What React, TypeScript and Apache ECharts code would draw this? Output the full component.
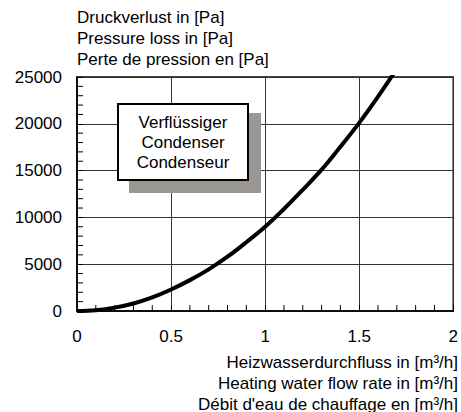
import React, { useEffect, useRef } from "react";
import * as echarts from "echarts";

const flowRates = [0, 0.1, 0.2, 0.3, 0.4, 0.5, 0.6, 0.7, 0.8, 0.9, 1.0, 1.1, 1.2, 1.3, 1.4, 1.5, 1.6, 1.7];
const pressureLoss = [0, 90, 360, 800, 1450, 2300, 3300, 4450, 5800, 7350, 9000, 10900, 12950, 15100, 17550, 20100, 22900, 25900];
const yTicks = [0, 5000, 10000, 15000, 20000, 25000];
const xTicks = [0, 0.5, 1, 1.5, 2];
const xMinorTicks = [0.1, 0.2, 0.3, 0.4, 0.6, 0.7, 0.8, 0.9, 1.1, 1.2, 1.3, 1.4, 1.6, 1.7, 1.8, 1.9];
const yMinorTicks = [1000, 2000, 3000, 4000, 6000, 7000, 8000, 9000, 11000, 12000, 13000, 14000, 16000, 17000, 18000, 19000, 21000, 22000, 23000, 24000];
const yTitle = ["Druckverlust in [Pa]", "Pressure loss in [Pa]", "Perte de pression en [Pa]"];
const xTitle = ["Heizwasserdurchfluss in [m³/h]", "Heating water flow rate in [m³/h]", "Débit d'eau de chauffage en [m³/h]"];
const boxLabel = ["Verflüssiger", "Condenser", "Condenseur"];

const FONT = "'Liberation Sans', Arial, sans-serif";
const FS = 17;
const TICK_LEN = 6;

export default function App() {
  const ref = useRef<HTMLDivElement>(null);
  useEffect(() => {
    if (!ref.current) return;
    const chart = echarts.init(ref.current, null, { renderer: "svg" });
    const data = flowRates.map((x, i) => [x, pressureLoss[i]]);
    const xMin = xTicks[0], xMax = xTicks[xTicks.length - 1];
    const yMin = yTicks[0], yMax = yTicks[yTicks.length - 1];
    chart.setOption({
      animation: false,
      backgroundColor: "#ffffff",
      textStyle: { fontFamily: FONT },
      grid: {
        left: 77, right: 4, top: 77, bottom: 101,
        show: true, borderColor: "#000", borderWidth: 1.5,
      },
      xAxis: {
        type: "value", min: xMin, max: xMax, interval: 0.5,
        axisLine: { show: true, lineStyle: { color: "#000", width: 1.5 } },
        axisTick: { show: true, inside: true, length: TICK_LEN, lineStyle: { color: "#000", width: 1 } },
        splitLine: { show: true, lineStyle: { color: "#333", width: 1 } },
        axisLabel: { color: "#000", fontSize: FS, fontFamily: FONT, margin: 17, formatter: (v: number) => String(v) },
      },
      yAxis: {
        type: "value", min: yMin, max: yMax, interval: 5000,
        axisLine: { show: true, lineStyle: { color: "#000", width: 1.5 } },
        axisTick: { show: true, inside: true, length: TICK_LEN, lineStyle: { color: "#000", width: 1 } },
        splitLine: { show: true, lineStyle: { color: "#333", width: 1 } },
        axisLabel: { color: "#000", fontSize: FS, fontFamily: FONT, margin: 15, formatter: (v: number) => String(v) },
      },
      series: [
        {
          type: "line", data, smooth: 0.4, showSymbol: false, clip: true,
          lineStyle: { color: "#000", width: 4 }, z: 5,
        },
        {
          type: "custom", silent: true, clip: false, z: 3,
          data: xMinorTicks.map((v) => [v, yMin]),
          renderItem: (_p: any, api: any) => {
            const pt = api.coord([api.value(0), api.value(1)]);
            return {
              type: "line",
              shape: { x1: pt[0], y1: pt[1], x2: pt[0], y2: pt[1] - TICK_LEN },
              style: { stroke: "#000", lineWidth: 1 },
            };
          },
        },
        {
          type: "custom", silent: true, clip: false, z: 3,
          data: yMinorTicks.map((v) => [xMin, v]),
          renderItem: (_p: any, api: any) => {
            const pt = api.coord([api.value(0), api.value(1)]);
            return {
              type: "line",
              shape: { x1: pt[0], y1: pt[1], x2: pt[0] + TICK_LEN, y2: pt[1] },
              style: { stroke: "#000", lineWidth: 1 },
            };
          },
        },
      ],
      graphic: [
        ...yTitle.map((t, i) => ({
          type: "text", x: 77, y: 17 + i * 21,
          style: { text: t, fill: "#000", font: `${FS}px ${FONT}`, textVerticalAlign: "middle" },
        })),
        ...xTitle.map((t, i) => ({
          type: "text", x: 458, y: 362 + i * 21,
          style: { text: t, fill: "#000", font: `${FS}px ${FONT}`, textAlign: "right", textVerticalAlign: "middle" },
        })),
        { type: "rect", shape: { x: 129, y: 113, width: 132, height: 80 }, style: { fill: "#9a9792" }, z: 10 },
        { type: "rect", shape: { x: 118, y: 104, width: 130, height: 76 }, style: { fill: "#fff", stroke: "#000", lineWidth: 2 }, z: 11 },
        ...boxLabel.map((t, i) => ({
          type: "text", x: 183, y: 122 + i * 20, z: 12,
          style: { text: t, fill: "#000", font: `${FS}px ${FONT}`, textAlign: "center", textVerticalAlign: "middle" },
        })),
      ],
    });
    return () => chart.dispose();
  }, []);
  return <div ref={ref} style={{ position: "fixed", left: 0, top: 0, width: 461, height: 412 }} />;
}
